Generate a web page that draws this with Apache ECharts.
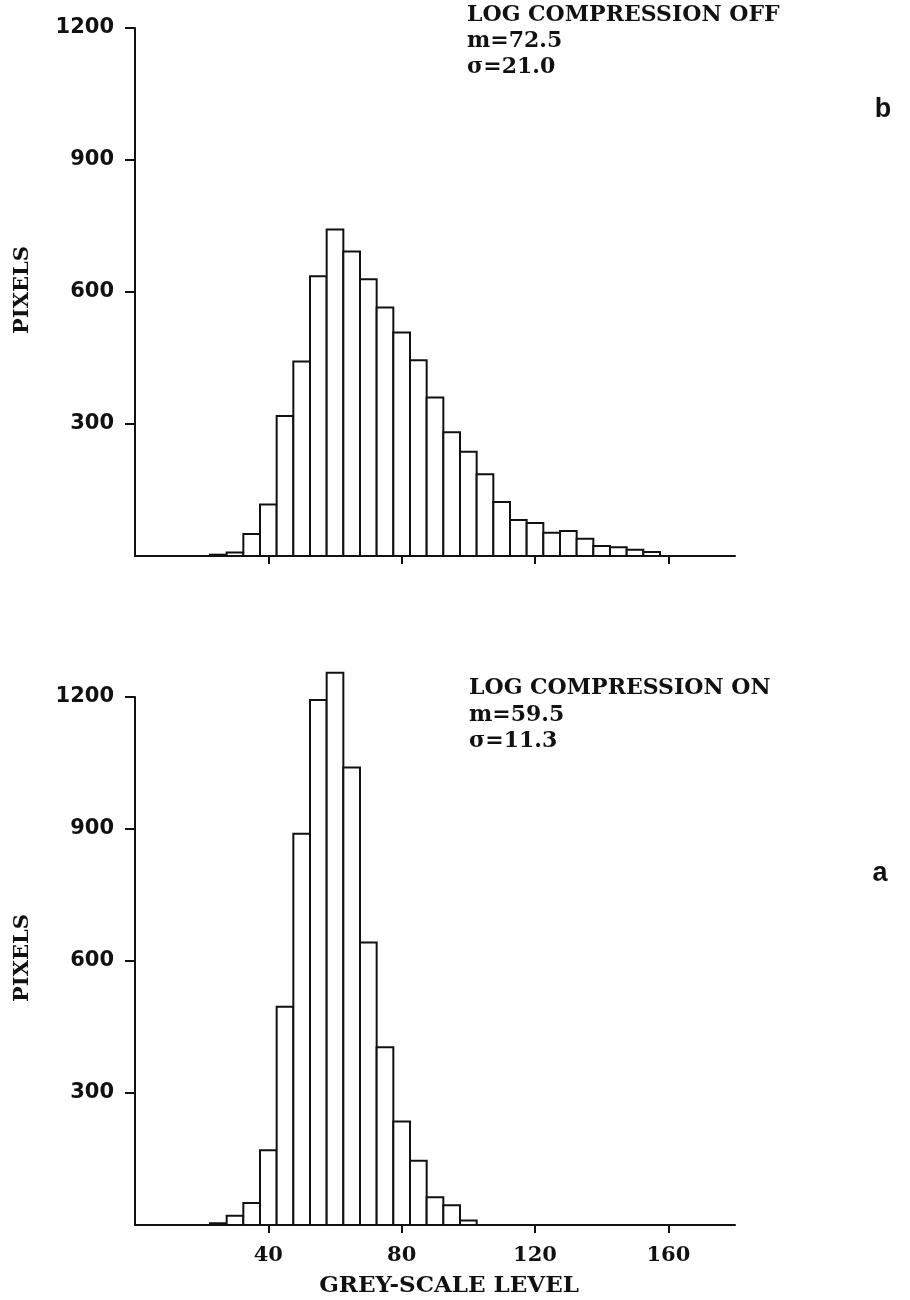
<!DOCTYPE html>
<html>
<head>
<meta charset="utf-8">
<script src="https://cdn.jsdelivr.net/npm/echarts@6/dist/echarts.min.js"></script>
<style>
  html, body { margin: 0; padding: 0; background: #fff; }
  #main { width: 910px; height: 1300px; }
</style>
</head>
<body>
<div id="main"></div>
<script>
// grey-scale level bins (bin centres, width 5)
var binWidth = 5;
var levelsOff = [25, 30, 35, 40, 45, 50, 55, 60, 65, 70, 75, 80, 85, 90, 95, 100,
  105, 110, 115, 120, 125, 130, 135, 140, 145, 150, 155];
var pixelsOff = [3, 8, 50, 117, 318, 442, 636, 742, 692, 629, 565, 508, 445, 360, 281, 237,
  186, 123, 82, 75, 53, 57, 39, 23, 20, 14, 9];
var levelsOn = [25, 30, 35, 40, 45, 50, 55, 60, 65, 70, 75, 80, 85, 90, 95, 100];
var pixelsOn = [4, 21, 50, 170, 496, 889, 1193, 1255, 1040, 642, 404, 235, 146, 63, 45, 10];
var xTicks = [40, 80, 120, 160];
var yTicks = [300, 600, 900, 1200];

var serif = '"DejaVu Serif", serif';
var sans = '"DejaVu Sans", sans-serif';

function pairs(xs, ys) {
  var out = [];
  for (var i = 0; i < xs.length; i++) out.push([xs[i], ys[i]]);
  return out;
}

// histogram bar: rectangle from (x - w/2, 0) to (x + w/2, y)
function renderBar(params, api) {
  var x = api.value(0), y = api.value(1);
  var p0 = api.coord([x - binWidth / 2, y]);
  var p1 = api.coord([x + binWidth / 2, 0]);
  return {
    type: 'rect',
    shape: { x: p0[0], y: p0[1], width: p1[0] - p0[0], height: p1[1] - p0[1] },
    style: { fill: '#fff', stroke: '#111', lineWidth: 2 }
  };
}

function xAxisOf(idx, showLabels) {
  return {
    type: 'value', gridIndex: idx, min: 0, max: 180, interval: 40,
    splitLine: { show: false },
    axisLine: { lineStyle: { color: '#111', width: 2 } },
    axisTick: { length: 8, lineStyle: { color: '#111', width: 2 }, customValues: xTicks },
    axisLabel: {
      show: showLabels, customValues: xTicks, margin: 20,
      color: '#111', fontFamily: serif, fontWeight: 'bold', fontSize: 21,
      formatter: function (v) { return v === 0 ? '' : String(v); }
    }
  };
}

function yAxisOf(idx) {
  return {
    type: 'value', gridIndex: idx, min: 0, max: 1200, interval: 300,
    splitLine: { show: false },
    axisLine: { lineStyle: { color: '#111', width: 2 } },
    axisTick: { length: 10, lineStyle: { color: '#111', width: 2 }, customValues: yTicks },
    axisLabel: {
      customValues: yTicks, margin: 21,
      color: '#111', fontFamily: sans, fontWeight: 'bold', fontSize: 21,
      formatter: function (v) { return v === 0 ? '' : String(v); }
    }
  };
}

function label(text, x, y, font, opts) {
  var g = {
    type: 'text', x: x, y: y,
    style: { text: text, font: font, fill: '#111', align: 'left', verticalAlign: 'middle' }
  };
  if (opts) {
    if (opts.align) g.style.align = opts.align;
    if (opts.rotation) g.rotation = opts.rotation;
  }
  return g;
}

var chart = echarts.init(document.getElementById('main'), null, { renderer: 'canvas' });
var textFont = 'bold 22px ' + serif;
var option = {
  backgroundColor: '#fff',
  animation: false,
  grid: [
    { left: 135, right: 175, top: 28, height: 528 },
    { left: 135, right: 175, top: 697, height: 528 }
  ],
  xAxis: [xAxisOf(0, false), xAxisOf(1, true)],
  yAxis: [yAxisOf(0), yAxisOf(1)],
  series: [
    { type: 'custom', xAxisIndex: 0, yAxisIndex: 0, renderItem: renderBar, data: pairs(levelsOff, pixelsOff) },
    { type: 'custom', xAxisIndex: 1, yAxisIndex: 1, renderItem: renderBar, data: pairs(levelsOn, pixelsOn) }
  ],
  graphic: [
    label('LOG COMPRESSION OFF', 467, 15, textFont),
    label('m=72.5', 467, 41, textFont),
    label('\u03c3=21.0', 467, 67, textFont),
    label('LOG COMPRESSION ON', 469, 688, textFont),
    label('m=59.5', 469, 715, textFont),
    label('\u03c3=11.3', 469, 741, textFont),
    label('b', 883, 110, 'bold 27px "Liberation Sans", sans-serif', { align: 'center' }),
    label('a', 880, 874, 'bold 27px "Liberation Sans", sans-serif', { align: 'center' }),
    label('PIXELS', 23, 290, 'bold 21px ' + serif, { align: 'center', rotation: Math.PI / 2 }),
    label('PIXELS', 23, 958, 'bold 21px ' + serif, { align: 'center', rotation: Math.PI / 2 }),
    label('GREY-SCALE LEVEL', 449, 1286, 'bold 23px ' + serif, { align: 'center' })
  ]
};
chart.setOption(option);
</script>
</body>
</html>
